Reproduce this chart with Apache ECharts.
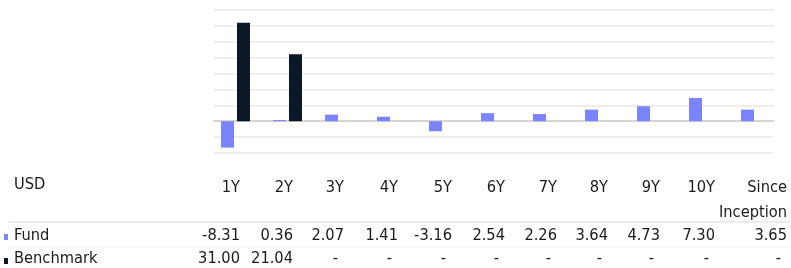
<!DOCTYPE html>
<html>
<head>
<meta charset="utf-8">
<script src="https://cdn.jsdelivr.net/npm/echarts@6/dist/echarts.min.js"></script>
<style>
  html, body { margin: 0; padding: 0; background: #fff; }
  #main { width: 791px; height: 268px; }
</style>
</head>
<body>
<div id="main"></div>
<script>
// data
var categories = ['1Y', '2Y', '3Y', '4Y', '5Y', '6Y', '7Y', '8Y', '9Y', '10Y', 'Since\nInception'];
var fundValues = [-8.31, 0.36, 2.07, 1.41, -3.16, 2.54, 2.26, 3.64, 4.73, 7.30, 3.65];
var benchValues = [31.00, 21.04, null, null, null, null, null, null, null, null, null];
var yTicks = [-10, -5, 0, 5, 10, 15, 20, 25, 30, 35];

var fundColor = '#7b84ff';
var benchColor = '#0c1827';
var textColor = '#1a1a1a';
var font = '16.3px "DejaVu Sans Condensed", "DejaVu Sans", sans-serif';

// right edge of each table column
var colRight = [240, 293, 344, 398, 452, 505, 557, 608, 660, 715, 787];

var myChart = echarts.init(document.getElementById('main'));

var graphics = [];
function txt(x, y, s, align) {
	graphics.push({
		type: 'text',
		style: { x: x, y: y, text: s, fill: textColor, font: font, align: align || 'left', verticalAlign: 'middle' }
	});
}

// header row
txt(14, 185, 'USD');
categories.forEach(function (c, i) {
	c.split('\n').forEach(function (p, j) {
		txt(colRight[i], 188 + j * 25, p, 'right');
	});
});

// separators and legend squares
graphics.push({ type: 'line', shape: { x1: 9, y1: 222, x2: 790, y2: 222 }, style: { stroke: '#ece6e4', lineWidth: 1.5 } });
graphics.push({ type: 'line', shape: { x1: 9, y1: 247, x2: 790, y2: 247 }, style: { stroke: '#f4eeec', lineWidth: 1 } });
graphics.push({ type: 'rect', shape: { x: 4, y: 234, width: 4, height: 6 }, style: { fill: fundColor } });
graphics.push({ type: 'rect', shape: { x: 4, y: 258, width: 4, height: 6 }, style: { fill: benchColor } });
txt(14, 236, 'Fund');
txt(14, 259, 'Benchmark');

// value rows
fundValues.forEach(function (v, i) {
	txt(colRight[i], 236, v.toFixed(2), 'right');
});
benchValues.forEach(function (v, i) {
	if (v == null) txt(colRight[i] - 6, 259, '-', 'right');
	else txt(colRight[i], 259, v.toFixed(2), 'right');
});

var yMin = yTicks[0], yMax = yTicks[yTicks.length - 1];

var option = {
	animation: false,
	grid: [
		{ left: 214, top: 10, width: 560, height: 143 },
		{ left: 209.5, top: 10, width: 572, height: 143 }
	],
	xAxis: [
		{
			gridIndex: 0, type: 'value', min: 0, max: 1,
			axisLabel: { show: false }, axisTick: { show: false }, splitLine: { show: false },
			axisLine: { show: true, onZero: true, lineStyle: { color: '#cccccc', width: 1.5 } }
		},
		{
			gridIndex: 1, type: 'category', data: categories,
			axisLabel: { show: false }, axisTick: { show: false }, axisLine: { show: false }
		}
	],
	yAxis: [
		{
			gridIndex: 0, type: 'value', min: yMin, max: yMax, interval: 5,
			axisLabel: { show: false }, axisTick: { show: false }, axisLine: { show: false },
			splitLine: { lineStyle: { color: '#ebe7e5', width: 1.5 } }
		},
		{
			gridIndex: 1, type: 'value', min: yMin, max: yMax, interval: 5,
			axisLabel: { show: false }, axisTick: { show: false }, axisLine: { show: false },
			splitLine: { show: false }
		}
	],
	series: [
		{ name: 'Fund', type: 'bar', xAxisIndex: 1, yAxisIndex: 1, data: fundValues, barWidth: 13, barGap: '23%', itemStyle: { color: fundColor } },
		{ name: 'Benchmark', type: 'bar', xAxisIndex: 1, yAxisIndex: 1, data: benchValues, barWidth: 13, barGap: '23%', itemStyle: { color: benchColor } }
	],
	graphic: graphics
};

myChart.setOption(option);
</script>
</body>
</html>
